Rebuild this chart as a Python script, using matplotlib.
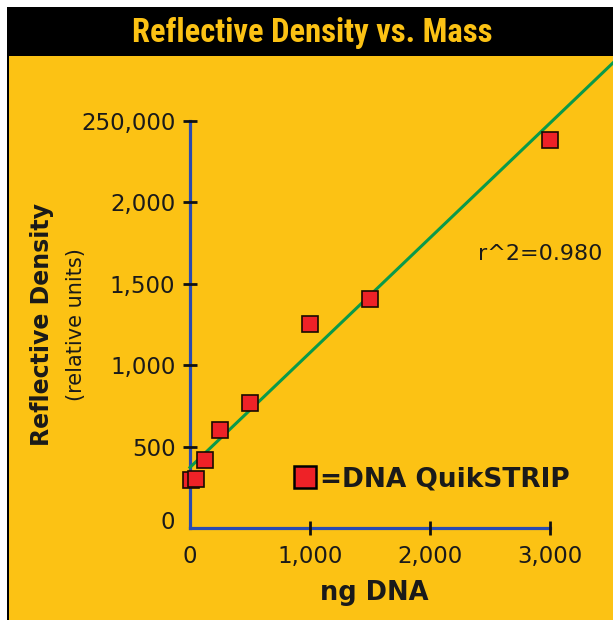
import matplotlib
matplotlib.use('Agg')
import matplotlib.pyplot as plt
from matplotlib.patches import Rectangle
from matplotlib.lines import Line2D
from matplotlib.transforms import ScaledTranslation
from matplotlib import font_manager as fm

# ---- data ----
ng_dna = [12, 52, 125, 250, 500, 1000, 1500, 3000]
density = [292, 304, 418, 605, 768, 1256, 1407, 2383]
fit_intercept = 372
fit_slope = 0.705
fit_x_end = 3600
r2_text = "r^2=0.980"
x_ticks = [0, 1000, 2000, 3000]
x_tick_labels = ["0", "1,000", "2,000", "3,000"]
y_ticks = [0, 500, 1000, 1500, 2000, 2500]
y_tick_labels = ["0", "500", "1,000", "1,500", "2,000", "250,000"]

YELLOW = '#FCC214'
RED = '#EE2227'
GREEN = '#0A9A4A'
BLUE = '#2A4BB0'
INK = '#1a1a1a'

W, H = 613, 620
fig = plt.figure(figsize=(W / 100, H / 100), dpi=100)
fig.patch.set_facecolor('white')


def fx(px):
    return px / W


def fy(py):
    return 1 - py / H


names = {f.name for f in fm.fontManager.ttflist}
title_family = 'DejaVu Sans'
for cand in ['Liberation Sans Narrow', 'DejaVu Sans Condensed', 'Roboto Condensed',
             'Open Sans Condensed']:
    if cand in names:
        title_family = cand
        break

# background panels
fig.add_artist(Rectangle((fx(7), 0), 1 - fx(7), fy(7), transform=fig.transFigure,
                         facecolor='black', edgecolor='none', zorder=-2))
fig.add_artist(Rectangle((fx(9), 0), 1 - fx(9), fy(56), transform=fig.transFigure,
                         facecolor=YELLOW, edgecolor='none', zorder=-1))

fig.text(fx(312), fy(42), 'Reflective Density vs. Mass', ha='center', va='baseline',
         color=YELLOW, fontsize=23.5, fontweight='bold', fontstretch='condensed',
         family=[title_family, 'DejaVu Sans'])

ax = fig.add_axes([fx(190), 1 - 528 / H, (550 - 190) / W, (528 - 121) / H])
ax.set_facecolor('none')
ax.set_xlim(0, 3000)
ax.set_ylim(0, 2500)

ax.set_xticks(x_ticks)
ax.set_xticklabels(x_tick_labels)
ax.set_yticks(y_ticks)
ax.set_yticklabels(y_tick_labels)
ax.tick_params(axis='both', direction='inout', length=10, width=2, color='#111111',
               pad=5.5, labelsize=16.5, labelcolor=INK)
ax.tick_params(axis='x', pad=7)
ax.xaxis.get_major_ticks()[0].tick1line.set_visible(False)
yt0 = ax.yaxis.get_major_ticks()[0]
yt0.tick1line.set_visible(False)
yt0.label1.set_transform(yt0.label1.get_transform() +
                         ScaledTranslation(0, 0.08, fig.dpi_scale_trans))

for s in ['top', 'right']:
    ax.spines[s].set_visible(False)
for s in ['left', 'bottom']:
    ax.spines[s].set_edgecolor(BLUE)
    ax.spines[s].set_linewidth(2.3)
    ax.spines[s].set_zorder(1)

# fitted line
ax.plot([0, fit_x_end], [fit_intercept, fit_intercept + fit_slope * fit_x_end],
        color=GREEN, lw=2.2, clip_on=False, zorder=2)
# data points
ax.plot(ng_dna, density, ls='none', marker='s', ms=12, mfc=RED, mec='#1a0a00',
        mew=1.2, clip_on=False, zorder=3)

ax.text(0.972, 0.658, r2_text, transform=ax.transAxes, ha='center', va='baseline',
        fontsize=16, color=INK)

handle = Line2D([], [], ls='none', marker='s', ms=16.5, mfc=RED, mec='black', mew=1.8)
ax.legend([handle], ['=DNA QuikSTRIP'], loc='center left',
          bbox_to_anchor=(fx(294), fy(479)), bbox_transform=fig.transFigure,
          frameon=False, borderpad=0, borderaxespad=0, handlelength=0.85,
          handletextpad=0.15, prop={'size': 19, 'weight': 'bold'}, labelcolor=INK)

fig.text(fx(42), fy(325), 'Reflective Density', rotation=90, ha='center', va='center',
         fontsize=17, fontweight='bold', color=INK)
fig.text(fx(76), fy(325), '(relative units)', rotation=90, ha='center', va='center',
         fontsize=15, color=INK)
fig.text(fx(374), fy(600), 'ng DNA', ha='center', va='baseline', fontsize=18.5,
         fontweight='bold', color=INK)

fig.savefig('out.png', dpi=100)
